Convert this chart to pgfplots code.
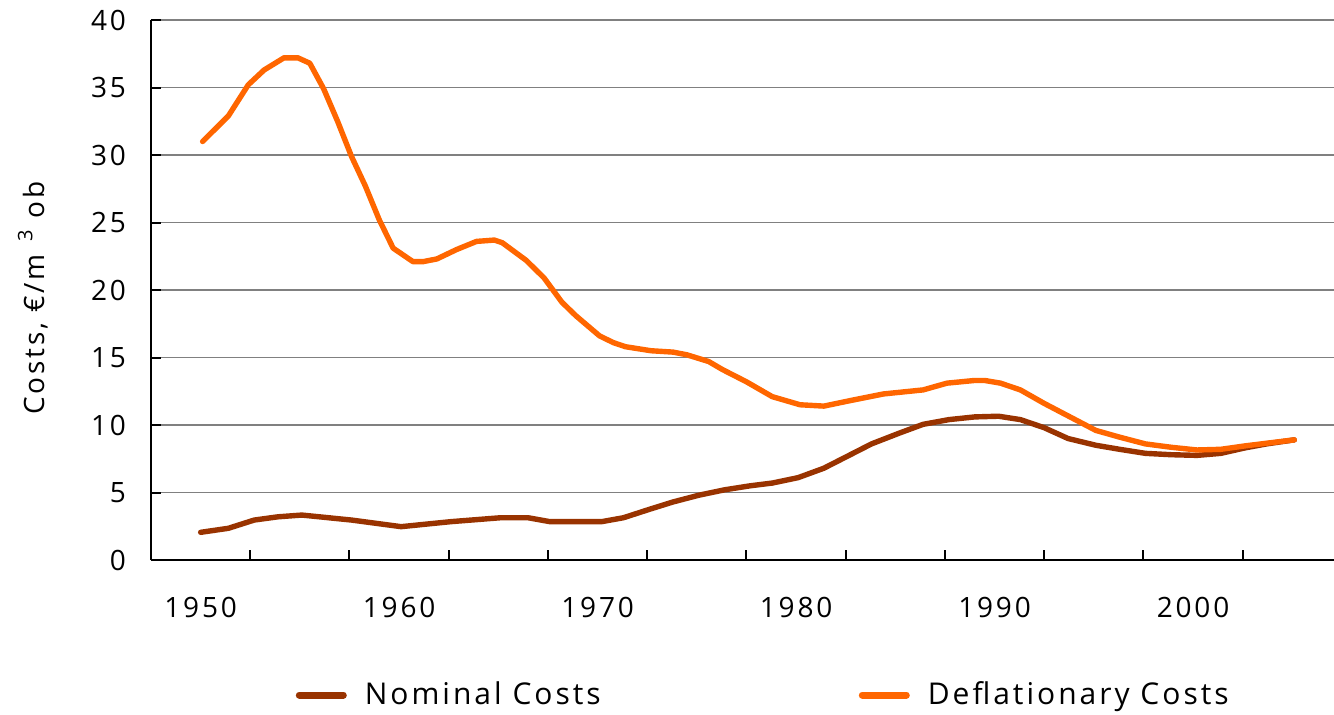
\documentclass[border=0pt]{standalone}
\usepackage{fontspec}
\setmainfont{Open Sans}[LetterSpace=10]
\usepackage{pgfplots}
\pgfplotsset{compat=1.18}
\definecolor{nominal}{HTML}{993300}
\definecolor{deflat}{HTML}{FF6600}
\begin{document}
\begin{tikzpicture}
\begin{axis}[
  at={(0,0)}, anchor=south west,
  scale only axis, width=591.5pt, height=270pt,
  xmin=1947.5, xmax=2007.1, ymin=0, ymax=40,
  axis x line*=bottom, axis y line*=left,
  axis line style={line width=1pt, black},
  tick align=inside,
  xtick={1950,1960,1970,1980,1990,2000},
  xticklabels={1950,1960,1970,1980,1990,2000},
  major x tick style={draw=none},
  minor xtick={1952.5,1957.5,1962.5,1967.5,1972.5,1977.5,1982.5,1987.5,1992.5,1997.5,2002.5},
  minor x tick style={black, line width=1pt},
  minor tick length=5pt,
  ytick={0,5,...,40},
  y tick style={black, line width=1pt},
  major tick length=5pt,
  ymajorgrids,
  grid style={gray, line width=0.6pt},
  /pgf/number format/assume math mode=true,
  tick label style={font=\fontsize{14}{16}\selectfont},
  xticklabel style={yshift=-15pt},
  yticklabel style={xshift=-9pt},
  ylabel={Costs, €/m\hspace{6pt}\raisebox{6pt}{\fontsize{10}{12}\selectfont 3}\hspace{6pt}ob},
  ylabel style={font=\fontsize{14}{16}\selectfont, at={(axis description cs:-0.0998,0.485)}, anchor=center},
  legend columns=2,
  legend style={draw=none, fill=none, at={(axis description cs:0.117,-0.25)}, anchor=west,
    font=\fontsize{15}{17}\selectfont,
    /tikz/every even column/.append style={column sep=0pt}},
  legend image code/.code={\draw[#1, line width=3.5pt, line cap=round] (0pt,0pt) -- (22pt,0pt);},
  every axis plot/.append style={line width=2.7pt, line join=round, line cap=round},
]
\addplot[color=nominal] coordinates {
(1950.0,2.05) (1951.4,2.35) (1952.7,2.96) (1953.9,3.2) (1955.1,3.33) (1957.6,2.96)
(1960.1,2.47) (1962.6,2.84) (1965.1,3.13) (1966.5,3.13) (1967.6,2.84) (1970.2,2.84)
(1971.3,3.13) (1972.6,3.75) (1973.8,4.3) (1975.1,4.8) (1976.4,5.2) (1977.7,5.5)
(1978.8,5.7) (1980.1,6.1) (1981.4,6.8) (1982.6,7.7) (1983.8,8.6) (1985.2,9.4)
(1986.4,10.05) (1987.7,10.4) (1989.0,10.6) (1990.2,10.65) (1991.3,10.4) (1992.5,9.8)
(1993.7,9.0) (1995.1,8.5) (1996.3,8.2) (1997.6,7.9) (1998.9,7.8) (2000.2,7.75)
(2001.4,7.9) (2002.6,8.3) (2003.7,8.6) (2005.1,8.9)
};
\addlegendentry{\makebox[252pt][l]{\hspace{7pt}Nominal Costs}}
\addplot[color=deflat] coordinates {
(1950.1,31.0) (1951.4,32.9) (1952.4,35.2) (1953.2,36.3) (1954.2,37.2) (1954.9,37.2)
(1955.5,36.8) (1956.2,34.9) (1956.9,32.5) (1957.6,29.9) (1958.3,27.7) (1959.0,25.2)
(1959.7,23.1) (1960.7,22.1) (1961.2,22.1) (1961.9,22.3) (1962.9,23.0) (1963.9,23.6)
(1964.8,23.7) (1965.2,23.5) (1966.4,22.2) (1967.3,20.9) (1968.2,19.1) (1968.9,18.1)
(1970.1,16.6) (1970.8,16.1) (1971.4,15.8) (1972.7,15.5) (1973.8,15.4) (1974.5,15.2)
(1975.6,14.7) (1976.3,14.1) (1977.5,13.2) (1978.8,12.1) (1980.2,11.5) (1981.4,11.4)
(1982.7,11.8) (1984.4,12.3) (1986.4,12.6) (1987.6,13.1) (1989.0,13.3) (1989.5,13.3)
(1990.3,13.1) (1991.3,12.6) (1992.5,11.6) (1993.8,10.6) (1995.1,9.6) (1996.3,9.1)
(1997.6,8.6) (1998.9,8.35) (2000.2,8.15) (2001.4,8.2) (2002.6,8.45) (2003.7,8.65)
(2005.1,8.9)
};
\addlegendentry{\hspace{7pt}Deflationary Costs}
\end{axis}
\pgfresetboundingbox
\path (-75.5pt,-77pt) rectangle (591.5pt,280pt);
\end{tikzpicture}
\end{document}
